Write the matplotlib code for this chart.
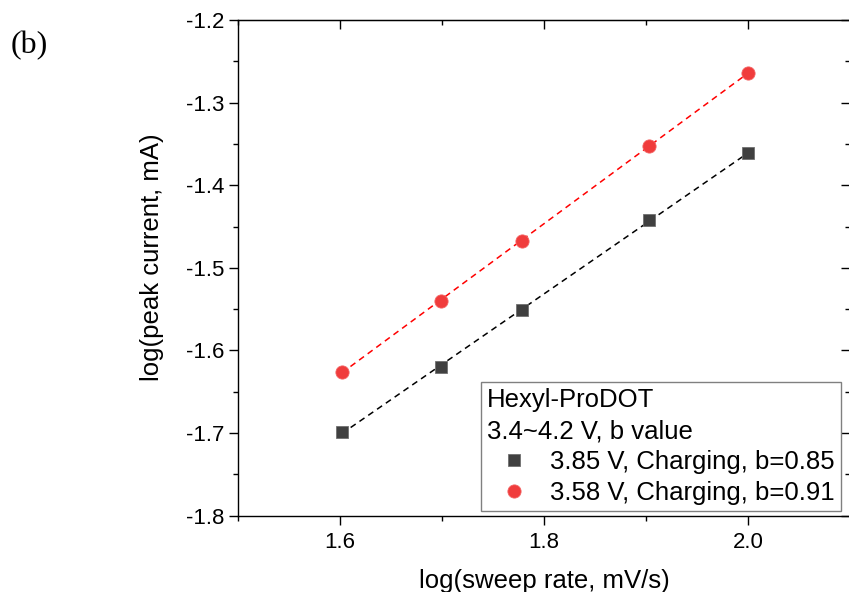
import matplotlib
matplotlib.use("Agg")
import matplotlib.pyplot as plt
import numpy as np
from matplotlib.ticker import MultipleLocator

plt.rcParams['font.family'] = ['Liberation Sans', 'DejaVu Sans']

# data: log(sweep rate) vs log(peak current)
log_rate = [1.602, 1.699, 1.778, 1.903, 2.0]
charge_385 = [-1.699, -1.620, -1.551, -1.442, -1.361]
charge_358 = [-1.626, -1.540, -1.467, -1.352, -1.264]
labels = ["3.85 V, Charging, b=0.85", "3.58 V, Charging, b=0.91"]
legend_title = "Hexyl-ProDOT\n3.4~4.2 V, b value"

fig = plt.figure(figsize=(8.49, 5.92), dpi=100)
ax = fig.add_axes([0.280, 0.129, 0.7215, 0.837])

x = np.array(log_rate)
for ys, col in [(charge_385, 'black'), (charge_358, 'red')]:
    k, b = np.polyfit(x, ys, 1)
    ax.plot(x, k * x + b, ls=(0, (4, 3)), color=col, lw=1.1, zorder=2)

ax.plot(log_rate, charge_385, ls='none', marker='s', ms=8.5, color='#404040',
        mec='#707070', mew=0.6, label=labels[0], zorder=3)
ax.plot(log_rate, charge_358, ls='none', marker='o', ms=9.5, color='#f03c3c',
        mec='#f36060', mew=0.6, label=labels[1], zorder=3)

ax.set_xlim(1.5, 2.1)
ax.set_ylim(-1.8, -1.2)
ax.xaxis.set_minor_locator(MultipleLocator(0.1))
ax.yaxis.set_minor_locator(MultipleLocator(0.05))
ax.set_xticks([1.6, 1.8, 2.0])
ax.set_xticklabels(["1.6", "1.8", "2.0"])
yt = np.round(np.arange(-1.8, -1.15, 0.1), 1)
ax.set_yticks(yt)
ax.set_yticklabels([f"{v:.1f}" for v in yt])
ax.tick_params(which='major', direction='out', length=6.5, width=1.0, labelsize=16)
ax.tick_params(which='minor', direction='out', length=3.5, width=1.0)
ax.tick_params(axis='x', pad=5)
ax.tick_params(axis='y', pad=3)
for sp in ax.spines.values():
    sp.set_linewidth(1.0)

# inward ticks on top and right
top = ax.secondary_xaxis('top')
top.xaxis.set_minor_locator(MultipleLocator(0.1))
top.set_xticks([1.6, 1.8, 2.0])
top.tick_params(which='major', direction='in', length=6.5, width=1.0, labeltop=False)
top.tick_params(which='minor', direction='in', length=3.5, width=1.0)
right = ax.secondary_yaxis('right')
right.set_yticks(yt)
right.yaxis.set_minor_locator(MultipleLocator(0.05))
right.tick_params(which='major', direction='in', length=6.5, width=1.0, labelright=False)
right.tick_params(which='minor', direction='in', length=3.5, width=1.0)

ax.set_xlabel("log(sweep rate, mV/s)", fontsize=18.5, labelpad=11.5)
ax.set_ylabel("log(peak current, mA)", fontsize=18.5, labelpad=16)
ax.yaxis.label.set_y(0.521)

leg = ax.legend(title=legend_title, loc='lower right', bbox_to_anchor=(0.985, 0.009),
                fontsize=18.5, title_fontsize=18.5, alignment='left', frameon=True,
                fancybox=False, edgecolor='#808080', framealpha=1.0,
                handletextpad=0.37, labelspacing=0.25, borderpad=0.25,
                handlelength=2.07, borderaxespad=0)
leg.get_frame().set_linewidth(1.0)
leg.get_title().set_linespacing(1.4)

fig.text(0.012, 0.91, "(b)", fontsize=23, family=['Liberation Serif', 'DejaVu Serif'])

fig.savefig("out.png", dpi=100)
